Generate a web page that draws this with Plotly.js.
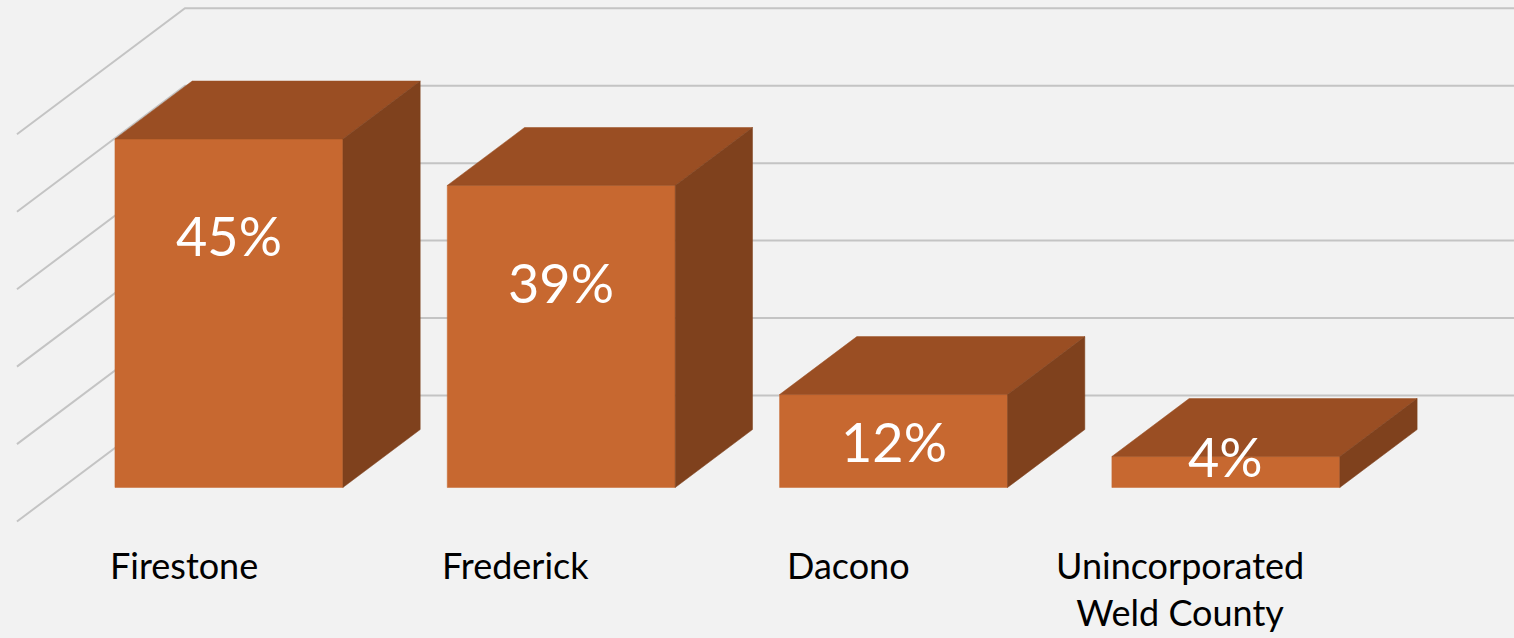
<!DOCTYPE html>
<html>
<head>
<meta charset="utf-8">
<script src="https://cdn.plot.ly/plotly-3.0.1.min.js"></script>
<style>
  html, body { margin: 0; padding: 0; background: #f2f2f2; }
  #chart { width: 1514px; height: 638px; }
</style>
</head>
<body>
<div id="chart"></div>
<script>
// ---- data ----
const categories = ['Firestone', 'Frederick', 'Dacono', 'Unincorporated<br>Weld County'];
const values = [45, 39, 12, 4];
const valueLabels = ['45%', '39%', '12%', '4%'];
const gridTicks = [0, 10, 20, 30, 40, 50];

// ---- oblique 3D projection (in axis units) ----
const DEPTH_DX = 0.5056;   // x shift (category units) from back wall to front edge
const DEPTH_DY = 16.27;    // y shift (value units) from back wall to front edge
const BAR_FRONT = 0.27, BAR_BACK = 0.73, HALF_W = 0.343;
const WALL_LEFT = -0.5014, WALL_RIGHT = 3.6;

function proj(u, v, d) { return [u - (1 - d) * DEPTH_DX, v - (1 - d) * DEPTH_DY]; }
function poly(pts) {
  const p = pts.map(q => proj(q[0], q[1], q[2]));
  p.push(p[0]);
  return { x: p.map(a => a[0]), y: p.map(a => a[1]) };
}

const traces = [];
const gridColor = '#c4c4c4';
// back wall and left wall gridlines
gridTicks.forEach(t => {
  const a = proj(WALL_LEFT, t, 1), b = proj(WALL_RIGHT, t, 1), c = proj(WALL_LEFT, t, 0);
  traces.push({ type: 'scatter', mode: 'lines', x: [c[0], a[0], b[0]], y: [c[1], a[1], b[1]],
    line: { color: gridColor, width: 2 }, hoverinfo: 'skip' });
});

const FRONT = '#c76830', TOP = '#9a4e23', SIDE = '#7f411d';
function face(pts, color) {
  const p = poly(pts);
  traces.push({ type: 'scatter', mode: 'lines', x: p.x, y: p.y, fill: 'toself',
    fillcolor: color, line: { color: color, width: 0.5 }, hoverinfo: 'skip' });
}

const annotations = [];
values.forEach((v, i) => {
  const l = i - HALF_W, r = i + HALF_W;
  face([[l, 0, BAR_FRONT], [r, 0, BAR_FRONT], [r, v, BAR_FRONT], [l, v, BAR_FRONT]], FRONT);
  face([[l, v, BAR_FRONT], [r, v, BAR_FRONT], [r, v, BAR_BACK], [l, v, BAR_BACK]], TOP);
  face([[r, 0, BAR_FRONT], [r, 0, BAR_BACK], [r, v, BAR_BACK], [r, v, BAR_FRONT]], SIDE);

  const lv = Math.max(v - 12.5, Math.max(v / 2, 4));
  const lp = proj(i, lv, BAR_FRONT);
  annotations.push({ x: lp[0], y: lp[1], text: valueLabels[i], showarrow: false,
    xanchor: 'center', yanchor: 'middle',
    font: { family: 'Lato, sans-serif', size: 54, color: '#ffffff' } });

  const cp = proj(i, -2.5, 0);
  annotations.push({ x: cp[0], y: cp[1], text: categories[i], showarrow: false,
    xanchor: 'center', yanchor: 'top', align: 'center',
    font: { family: 'Lato, sans-serif', size: 36, color: '#000000' } });
});

const layout = {
  width: 1514, height: 638,
  margin: { l: 0, r: 0, t: 0, b: 0 },
  paper_bgcolor: '#f2f2f2', plot_bgcolor: '#f2f2f2',
  showlegend: false, hovermode: false,
  xaxis: { range: [-1.058, 3.498], visible: false, fixedrange: true },
  yaxis: { range: [-31.31, 51.07], visible: false, fixedrange: true },
  annotations: annotations
};

Plotly.newPlot('chart', traces, layout, { displayModeBar: false, staticPlot: true });
</script>
</body>
</html>
